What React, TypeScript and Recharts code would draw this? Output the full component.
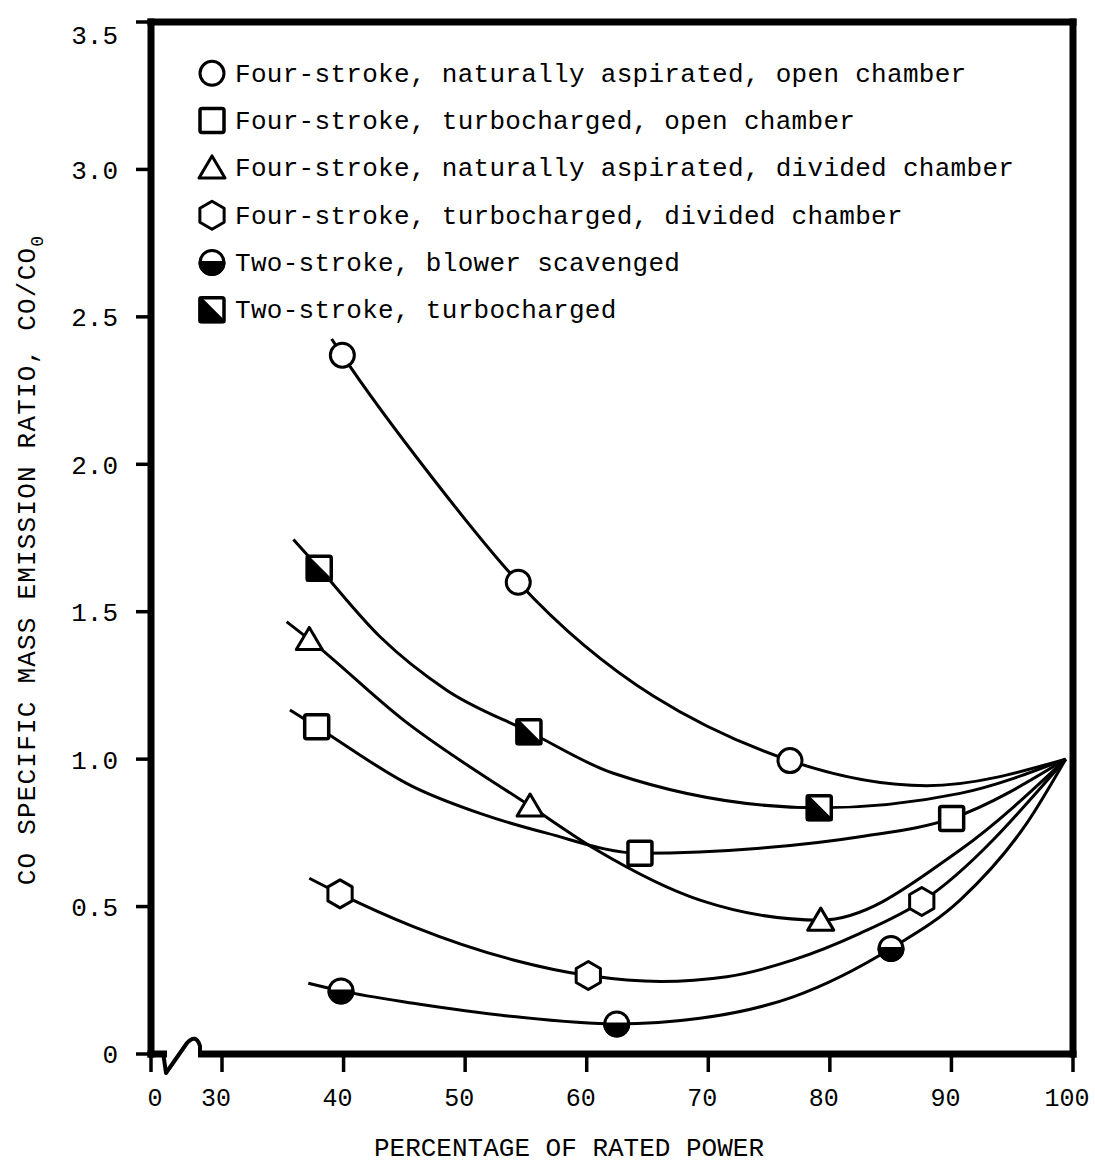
import React from 'react';
import { ComposedChart, Line, Scatter, XAxis, YAxis, Legend, Label } from 'recharts';

// axis ticks (the left end of the broken axis is labelled "0")
const xTicks = [24.16, 30, 40, 50, 60, 70, 80, 90, 100];
const xTickLabels = ['0', '30', '40', '50', '60', '70', '80', '90', '100'];
const yTicks = [0, 0.5, 1, 1.5, 2, 2.5, 3, 3.5];
const yTickLabels = ['0', '0.5', '1.0', '1.5', '2.0', '2.5', '3.0', '3.5'];

const meetPoint: [number, number] = [99.4, 1.0];

// Four-stroke, naturally aspirated, open chamber (open circle)
const naOpenMarks: [number, number][] = [[39.9, 2.37], [54.37, 1.6], [76.72, 0.995]];
const naOpenTrace: [number, number][] = [[39.02, 2.425], [47.38, 1.95], [87.97, 0.91]];

// Four-stroke, turbocharged, open chamber (open square)
const tcOpenMarks: [number, number][] = [[37.79, 1.11], [64.38, 0.681], [90.02, 0.799]];
const tcOpenTrace: [number, number][] = [
  [35.59, 1.167], [45.74, 0.906], [51.22, 0.816], [56.71, 0.749], [74.25, 0.698], [82.48, 0.737],
];

// Four-stroke, naturally aspirated, divided chamber (triangle)
const naDivMarks: [number, number][] = [[37.18, 1.406], [55.34, 0.841], [79.25, 0.454]];
const naDivTrace: [number, number][] = [
  [35.32, 1.466], [44.91, 1.133], [60.82, 0.692], [69.32, 0.522], [90.71, 0.692],
];

// Four-stroke, turbocharged, divided chamber (hexagon)
const tcDivMarks: [number, number][] = [[39.71, 0.543], [60.13, 0.266], [87.56, 0.517]];
const tcDivTrace: [number, number][] = [
  [37.18, 0.596], [45.74, 0.432], [53.96, 0.319], [66.1, 0.246], [71.52, 0.262],
  [76.99, 0.319], [82.48, 0.409],
];

// Two-stroke, blower scavenged (half filled circle)
const tsBlowerMarks: [number, number][] = [[39.79, 0.214], [62.47, 0.102], [85.03, 0.358]];
const tsBlowerTrace: [number, number][] = [
  [37.1, 0.24], [45.74, 0.172], [53.96, 0.127], [69.32, 0.121], [76.99, 0.194],
  [90.71, 0.522], [96.19, 0.782],
];

// Two-stroke, turbocharged (half filled square)
const tsTurboMarks: [number, number][] = [[38.0, 1.647], [55.25, 1.093], [79.13, 0.835]];
const tsTurboTrace: [number, number][] = [
  [35.87, 1.745], [43.0, 1.415], [48.48, 1.234], [62.19, 0.952], [90.71, 0.884],
];

const legendNames = [
  'Four-stroke, naturally aspirated, open chamber',
  'Four-stroke, turbocharged, open chamber',
  'Four-stroke, naturally aspirated, divided chamber',
  'Four-stroke, turbocharged, divided chamber',
  'Two-stroke, blower scavenged',
  'Two-stroke, turbocharged',
];
const legendKinds = ['circle', 'square', 'triangle', 'hexagon', 'halfCircle', 'halfSquare'];

const FONT = "'Liberation Mono', 'DejaVu Sans Mono', monospace";

const toPts = (arr: [number, number][]) => arr.map(([x, y]) => ({ x, y }));
const toCurve = (marks: [number, number][], trace: [number, number][]) =>
  toPts([...marks, ...trace, meetPoint].sort((a, b) => a[0] - b[0]));

const series = [
  { kind: 'circle', marks: naOpenMarks, trace: naOpenTrace },
  { kind: 'square', marks: tcOpenMarks, trace: tcOpenTrace },
  { kind: 'triangle', marks: naDivMarks, trace: naDivTrace },
  { kind: 'hexagon', marks: tcDivMarks, trace: tcDivTrace },
  { kind: 'halfCircle', marks: tsBlowerMarks, trace: tsBlowerTrace },
  { kind: 'halfSquare', marks: tsTurboMarks, trace: tsTurboTrace },
];

function Marker({ kind, cx, cy }: { kind: string; cx: number; cy: number }) {
  const r = 12;
  const common = { stroke: '#000', strokeWidth: 3, strokeLinejoin: 'round' as const };
  if (kind === 'circle') return <circle cx={cx} cy={cy} r={r} fill="#fff" {...common} />;
  if (kind === 'square')
    return <rect x={cx - r} y={cy - r} width={2 * r} height={2 * r} rx={2} fill="#fff" {...common} strokeWidth={3.5} />;
  if (kind === 'triangle') {
    const pts = `${cx},${cy - 12} ${cx + 13},${cy + 10} ${cx - 13},${cy + 10}`;
    return <polygon points={pts} fill="#fff" {...common} />;
  }
  if (kind === 'hexagon') {
    const pts = [0, 1, 2, 3, 4, 5]
      .map((i) => {
        const a = (Math.PI / 180) * (-90 + 60 * i);
        return `${cx + 14 * Math.cos(a)},${cy + 14 * Math.sin(a)}`;
      })
      .join(' ');
    return <polygon points={pts} fill="#fff" {...common} />;
  }
  if (kind === 'halfCircle')
    return (
      <g>
        <circle cx={cx} cy={cy} r={r} fill="#fff" {...common} />
        <path d={`M${cx - r},${cy} A${r},${r} 0 0 0 ${cx + r},${cy} Z`} fill="#000" {...common} />
      </g>
    );
  // halfSquare
  return (
    <g>
      <rect x={cx - r} y={cy - r} width={2 * r} height={2 * r} rx={2} fill="#fff" {...common} strokeWidth={3.5} />
      <path d={`M${cx - r},${cy - r} L${cx - r},${cy + r} L${cx + r},${cy + r} Z`} fill="#000" {...common} />
    </g>
  );
}

function LegendBox() {
  return (
    <svg width={860} height={290} style={{ display: 'block' }}>
      {legendNames.map((name, i) => (
        <g key={name}>
          <Marker kind={legendKinds[i]} cx={22} cy={28.3 + i * 47.3} />
          <text x={45} y={36.7 + i * 47.3} fontFamily={FONT} fontSize={26} letterSpacing={0.3} fill="#000">
            {name}
          </text>
        </g>
      ))}
    </svg>
  );
}

const axisLine = { stroke: '#000', strokeWidth: 7, strokeLinecap: 'square' as const };
const tickLine = { stroke: '#000', strokeWidth: 3.5 };

const XTick = (props: any) => {
  const { x, y, payload, index } = props;
  const label = xTickLabels[index] ?? String(payload.value);
  const dx = index === 0 ? 4 : -6;
  return (
    <text x={x + dx} y={y} dy="0.71em" textAnchor="middle" fontFamily={FONT} fontSize={25} fill="#000">
      {label}
    </text>
  );
};

const YTick = (props: any) => {
  const { x, y, index } = props;
  // the top label sits just below the frame in the original
  const shift = index === yTickLabels.length - 1 ? 13 : 0;
  return (
    <text x={x} y={y + shift} dy="0.36em" textAnchor="end" fontFamily={FONT} fontSize={26} fill="#000">
      {yTickLabels[index]}
    </text>
  );
};

export default function App() {
  return (
    <div style={{ position: 'absolute', left: 0, top: 0, width: 1095, height: 1165, background: '#fff' }}>
      <ComposedChart width={1095} height={1165} margin={{ top: 2, right: 2, bottom: 51, left: 51 }}>
        <XAxis
          xAxisId="b"
          dataKey="x"
          type="number"
          domain={[24.16, 100]}
          ticks={xTicks}
          interval={0}
          allowDataOverflow
          height={60}
          tickSize={18}
          tickMargin={16}
          axisLine={axisLine}
          tickLine={tickLine}
          tick={XTick}
        >
          <Label
            content={({ viewBox }: any) => (
              <text
                x={viewBox.x + viewBox.width / 2 - 43}
                y={viewBox.y + 102}
                textAnchor="middle"
                fontFamily={FONT}
                fontSize={26}
                fill="#000"
              >
                PERCENTAGE OF RATED POWER
              </text>
            )}
          />
        </XAxis>
        <XAxis
          xAxisId="t"
          orientation="top"
          dataKey="x"
          type="number"
          domain={[24.16, 100]}
          ticks={xTicks}
          interval={0}
          allowDataOverflow
          height={20}
          tickSize={18}
          axisLine={axisLine}
          tickLine={tickLine}
          tick={false}
        />
        <YAxis
          yAxisId="l"
          type="number"
          domain={[0, 3.5]}
          ticks={yTicks}
          interval={0}
          allowDataOverflow
          width={100}
          tickSize={15}
          tickMargin={18}
          axisLine={axisLine}
          tickLine={tickLine}
          tick={YTick}
        >
          <Label
            content={({ viewBox }: any) => {
              const tx = viewBox.x - 16;
              const ty = viewBox.y + viewBox.height / 2 + 22;
              return (
                <text
                  x={tx}
                  y={ty}
                  transform={`rotate(-90 ${tx} ${ty})`}
                  textAnchor="middle"
                  fontFamily={FONT}
                  fontSize={26}
                  letterSpacing={1.2}
                  fill="#000"
                >
                  CO SPECIFIC MASS EMISSION RATIO, CO/CO
                  <tspan dy={8} fontSize={18}>0</tspan>
                </text>
              );
            }}
          />
        </YAxis>
        <YAxis
          yAxisId="r"
          orientation="right"
          type="number"
          domain={[0, 3.5]}
          ticks={yTicks}
          interval={0}
          allowDataOverflow
          width={20}
          tickSize={16}
          axisLine={axisLine}
          tickLine={tickLine}
          tick={false}
        />
        {series.map((s) => (
          <Line
            key={`line-${s.kind}`}
            xAxisId="b"
            yAxisId="l"
            data={toCurve(s.marks, s.trace)}
            dataKey="y"
            type="monotone"
            stroke="#000"
            strokeWidth={3}
            dot={false}
            activeDot={false}
            isAnimationActive={false}
          />
        ))}
        {series.map((s) => (
          <Scatter
            key={`pts-${s.kind}`}
            xAxisId="b"
            yAxisId="l"
            data={toPts(s.marks)}
            dataKey="y"
            isAnimationActive={false}
            shape={(p: any) => <Marker kind={s.kind} cx={p.cx} cy={p.cy} />}
          />
        ))}
        <Legend
          layout="vertical"
          align="center"
          verticalAlign="middle"
          wrapperStyle={{ left: 190, top: 45, width: 860, height: 290 }}
          content={() => <LegendBox />}
        />
      </ComposedChart>
      {/* axis break symbol */}
      <svg width={1095} height={1165} style={{ position: 'absolute', left: 0, top: 0, pointerEvents: 'none' }}>
        <rect x={167} y={1049} width={31} height={11} fill="#fff" />
        <path
          d="M163,1052 L166,1073 L187,1043 Q196,1033 200,1046 L200,1054"
          fill="none"
          stroke="#000"
          strokeWidth={4}
          strokeLinejoin="round"
        />
      </svg>
    </div>
  );
}
